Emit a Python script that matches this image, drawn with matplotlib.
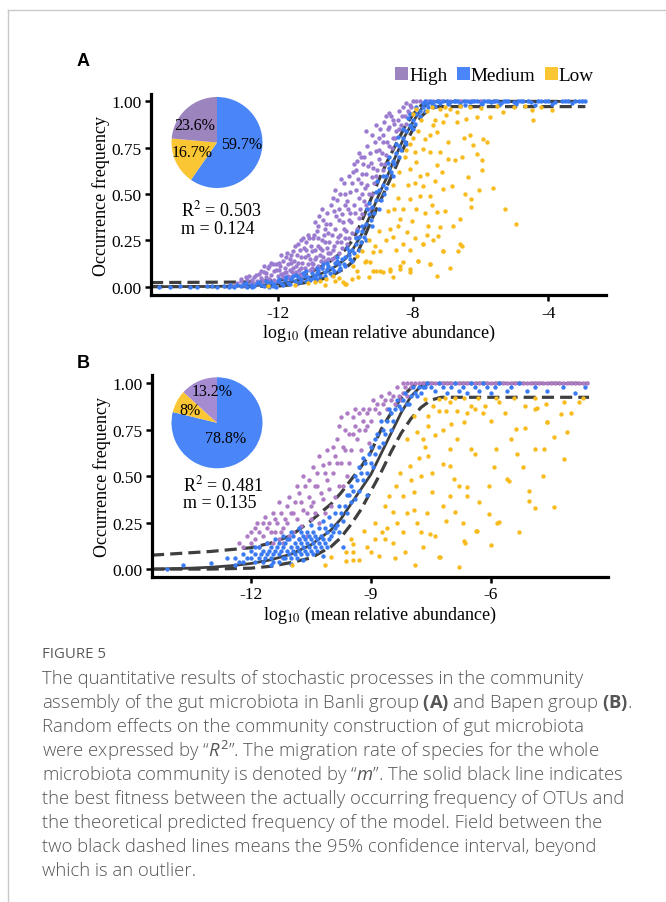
import numpy as np
import matplotlib.pyplot as plt
from matplotlib.patches import Patch
from matplotlib.lines import Line2D

plt.rcParams['mathtext.fontset'] = 'custom'
plt.rcParams['mathtext.rm'] = 'Open Sans'
plt.rcParams['mathtext.it'] = 'Open Sans:italic'
plt.rcParams['mathtext.bf'] = 'Open Sans:bold'

SERIF = 'Liberation Serif'
W, H = 666, 903

# ---------------- data ----------------
groups = ['High', 'Medium', 'Low']

# panel A (Banli group)
a_high = [
    (-13.4, 0.01), (-13.2, 0.02), (-13.0, 0.01), (-12.9, 0.035), (-12.8, 0.02), (-12.7, 0.05),
    (-12.6, 0.03), (-12.55, 0.07), (-12.7, 0.015), (-12.5, 0.045), (-13.1, 0.04), (-12.85, 0.06),
    (-12.45, 0.03), (-12.4, 0.08), (-12.35, 0.05), (-12.3, 0.1), (-12.25, 0.04), (-12.2, 0.065),
    (-12.15, 0.12), (-12.1, 0.035), (-12.05, 0.09), (-12.0, 0.055), (-12.4, 0.11), (-12.2, 0.13),
    (-11.95, 0.13), (-11.9, 0.07), (-11.85, 0.05), (-11.8, 0.1), (-11.75, 0.16), (-11.7, 0.06),
    (-11.65, 0.09), (-11.6, 0.13), (-11.55, 0.19), (-11.5, 0.07), (-11.9, 0.17), (-11.7, 0.12),
    (-11.6, 0.05), (-11.8, 0.04), (-11.55, 0.1), (-11.95, 0.09), (-11.75, 0.08), (-11.65, 0.15),
    (-11.45, 0.08), (-11.4, 0.13), (-11.35, 0.2), (-11.3, 0.1), (-11.25, 0.07), (-11.2, 0.16),
    (-11.15, 0.24), (-11.1, 0.12), (-11.05, 0.09), (-11.0, 0.19), (-11.4, 0.23), (-11.3, 0.16),
    (-11.2, 0.1), (-11.1, 0.28), (-11.0, 0.1), (-11.35, 0.07), (-11.05, 0.15), (-11.25, 0.26),
    (-11.45, 0.11), (-11.15, 0.2), (-11.3, 0.06), (-11.0, 0.13),
    (-10.95, 0.12), (-10.9, 0.2), (-10.85, 0.3), (-10.8, 0.11), (-10.75, 0.17), (-10.7, 0.25),
    (-10.65, 0.36), (-10.6, 0.14), (-10.55, 0.21), (-10.5, 0.29), (-10.9, 0.15), (-10.8, 0.33),
    (-10.7, 0.1), (-10.6, 0.24), (-10.55, 0.4), (-10.95, 0.26), (-10.75, 0.21), (-10.65, 0.16),
    (-10.85, 0.1), (-10.5, 0.15), (-10.9, 0.35), (-10.7, 0.42), (-10.6, 0.31), (-10.8, 0.22),
    (-10.45, 0.18), (-10.4, 0.28), (-10.35, 0.41), (-10.3, 0.16), (-10.25, 0.24), (-10.2, 0.36),
    (-10.15, 0.5), (-10.1, 0.21), (-10.05, 0.31), (-10.0, 0.44), (-10.45, 0.34), (-10.35, 0.22),
    (-10.25, 0.47), (-10.15, 0.28), (-10.05, 0.56), (-10.4, 0.15), (-10.2, 0.18), (-10.1, 0.39),
    (-10.3, 0.52), (-10.0, 0.26), (-10.12, 0.58), (-10.38, 0.48),
    (-9.95, 0.23), (-9.9, 0.36), (-9.85, 0.51), (-9.8, 0.29), (-9.75, 0.44), (-9.7, 0.63),
    (-9.65, 0.31), (-9.6, 0.48), (-9.55, 0.7), (-9.5, 0.39), (-9.9, 0.6), (-9.8, 0.56),
    (-9.7, 0.27), (-9.6, 0.37), (-9.55, 0.56), (-9.95, 0.46), (-9.65, 0.68), (-9.75, 0.66),
    (-9.5, 0.61), (-9.85, 0.4), (-9.6, 0.72),
    (-9.45, 0.46), (-9.4, 0.61), (-9.35, 0.76), (-9.3, 0.5), (-9.25, 0.67), (-9.2, 0.82),
    (-9.15, 0.56), (-9.1, 0.73), (-9.05, 0.63), (-9.0, 0.8), (-9.4, 0.84), (-9.3, 0.42),
    (-9.2, 0.59), (-9.1, 0.87), (-9.45, 0.7), (-9.0, 0.69), (-9.35, 0.55),
    (-8.95, 0.66), (-8.9, 0.78), (-8.85, 0.89), (-8.8, 0.71), (-8.75, 0.85), (-8.7, 0.76),
    (-8.65, 0.92), (-8.6, 0.8), (-8.55, 0.88), (-8.5, 0.84), (-8.9, 0.63), (-8.7, 0.94),
    (-8.8, 0.92),
    (-8.45, 0.9), (-8.4, 0.95), (-8.35, 0.87), (-8.3, 0.97), (-8.25, 0.92), (-8.2, 0.99),
    (-8.15, 0.95), (-8.1, 0.98), (-8.0, 1.0), (-7.9, 1.0), (-8.05, 0.97),
    (-7.8, 1.0), (-7.6, 1.0), (-7.4, 1.0), (-7.2, 1.0), (-6.9, 1.0), (-6.6, 1.0),
    (-6.3, 1.0), (-6.0, 1.0), (-5.6, 1.0),
    (-13.3, 0.005), (-13.1, 0.03), (-12.95, 0.05), (-12.75, 0.035), (-12.65, 0.065),
    (-12.5, 0.085), (-12.35, 0.075), (-12.3, 0.035), (-12.25, 0.11), (-12.1, 0.085),
    (-12.05, 0.12), (-11.98, 0.03), (-11.92, 0.11), (-11.85, 0.14), (-11.82, 0.075),
    (-11.72, 0.18), (-11.68, 0.045), (-11.62, 0.17), (-11.58, 0.08), (-11.52, 0.14),
    (-11.48, 0.22), (-11.42, 0.17), (-11.38, 0.09), (-11.32, 0.25), (-11.28, 0.13),
    (-11.22, 0.21), (-11.18, 0.08), (-11.12, 0.17), (-11.08, 0.26), (-11.02, 0.22),
    (-10.98, 0.09), (-10.92, 0.28), (-10.88, 0.16), (-10.82, 0.26), (-10.78, 0.38),
    (-10.72, 0.14), (-10.68, 0.2), (-10.62, 0.28), (-10.58, 0.34), (-10.52, 0.18),
    (-10.48, 0.24), (-10.42, 0.44), (-10.38, 0.2), (-10.32, 0.31), (-10.28, 0.38),
    (-10.22, 0.27), (-10.18, 0.42), (-10.12, 0.24), (-10.08, 0.35), (-10.02, 0.5),
    (-9.98, 0.3), (-9.92, 0.42), (-9.88, 0.26), (-9.82, 0.35), (-9.78, 0.62), (-9.72, 0.4),
    (-9.68, 0.52), (-9.62, 0.58), (-9.58, 0.42), (-9.52, 0.5), (-9.48, 0.66), (-9.42, 0.53),
    (-9.38, 0.44), (-9.32, 0.65), (-9.28, 0.72), (-9.22, 0.5), (-9.18, 0.64), (-9.12, 0.78),
    (-9.08, 0.6), (-9.02, 0.74), (-8.98, 0.85), (-8.92, 0.72), (-8.88, 0.82), (-8.82, 0.66),
    (-8.78, 0.78), (-8.72, 0.86), (-8.62, 0.75), (-8.58, 0.9), (-8.52, 0.8), (-8.42, 0.85),
    (-8.32, 0.92), (-8.22, 0.88), (-8.12, 0.94),
]

a_medium = [
    (-15.2, 0.0), (-14.9, 0.005), (-14.4, 0.0), (-14.1, 0.005), (-13.8, 0.0), (-13.6, 0.005),
    (-13.4, 0.01), (-13.3, 0.0), (-13.1, 0.005), (-13.0, 0.012), (-12.9, 0.0), (-12.8, 0.01),
    (-12.7, 0.005), (-12.6, 0.018), (-12.5, 0.01), (-12.4, 0.005), (-12.3, 0.02), (-12.2, 0.025),
    (-12.1, 0.012), (-12.0, 0.03), (-11.9, 0.018), (-11.8, 0.035), (-11.7, 0.022), (-11.6, 0.04),
    (-11.5, 0.03), (-11.4, 0.05), (-11.3, 0.04), (-11.2, 0.06), (-11.1, 0.05), (-11.0, 0.075),
    (-10.9, 0.06), (-10.8, 0.085), (-10.7, 0.1), (-10.6, 0.08), (-10.5, 0.11), (-10.4, 0.1),
    (-10.3, 0.13), (-10.2, 0.12), (-10.1, 0.15), (-10.0, 0.16), (-9.9, 0.19), (-9.8, 0.2),
    (-9.7, 0.23), (-9.6, 0.27), (-9.5, 0.3), (-9.4, 0.34), (-9.3, 0.39), (-9.2, 0.43),
    (-9.1, 0.47), (-9.0, 0.52), (-8.9, 0.55), (-8.8, 0.6), (-8.7, 0.64), (-8.6, 0.68),
    (-8.5, 0.72), (-8.4, 0.76), (-8.3, 0.8), (-8.2, 0.84), (-8.1, 0.87), (-8.0, 0.9),
    (-7.9, 0.93), (-7.8, 0.95), (-7.7, 0.97), (-7.6, 0.985),
    (-12.25, 0.0), (-11.95, 0.04), (-11.65, 0.012), (-11.35, 0.025), (-11.05, 0.035),
    (-10.75, 0.06), (-10.45, 0.075), (-10.15, 0.1), (-9.85, 0.15), (-9.55, 0.24),
    (-9.25, 0.36), (-8.95, 0.47), (-8.65, 0.62), (-8.35, 0.74), (-8.05, 0.86),
    (-10.85, 0.1), (-10.55, 0.13), (-10.25, 0.16), (-9.95, 0.21), (-9.65, 0.3),
    (-9.35, 0.42), (-9.05, 0.57), (-8.75, 0.67), (-8.45, 0.81), (-8.15, 0.91),
    (-11.55, 0.055), (-11.25, 0.075), (-10.95, 0.045), (-10.65, 0.12), (-10.35, 0.085),
    (-10.05, 0.125), (-9.75, 0.18), (-9.45, 0.27), (-9.15, 0.4), (-8.85, 0.5),
    (-8.55, 0.66), (-8.25, 0.78), (-7.95, 0.88),
    (-12.15, 0.005), (-11.85, 0.01), (-11.45, 0.015), (-11.15, 0.03), (-10.85, 0.04),
    (-10.6, 0.055), (-10.4, 0.065), (-10.2, 0.09), (-10.0, 0.11), (-9.8, 0.14), (-9.6, 0.2),
    (-9.4, 0.25), (-9.2, 0.33), (-9.0, 0.42), (-8.8, 0.53), (-8.6, 0.6), (-8.4, 0.7),
    (-8.2, 0.77), (-8.0, 0.85), (-7.8, 0.92), (-7.65, 0.95), (-11.75, 0.05), (-11.45, 0.065),
    (-11.15, 0.085), (-10.85, 0.075), (-10.55, 0.095), (-10.25, 0.14), (-9.9, 0.17),
    (-9.7, 0.26), (-9.5, 0.33), (-9.3, 0.45), (-9.1, 0.51), (-8.9, 0.6), (-8.7, 0.7),
    (-8.5, 0.77), (-8.3, 0.85), (-8.1, 0.93), (-7.9, 0.97), (-7.7, 0.99),
    (-15.5, 0.0), (-14.6, 0.0), (-13.95, 0.005), (-13.45, 0.0), (-13.2, 0.01), (-12.95, 0.02),
    (-12.75, 0.0), (-12.55, 0.025), (-12.35, 0.03), (-12.05, 0.0),
    (-7.5, 1.0), (-7.4, 0.995), (-7.3, 1.0), (-7.2, 0.99), (-7.1, 1.0), (-7.0, 1.0),
    (-6.9, 0.995), (-6.8, 1.0), (-6.7, 1.0), (-6.6, 0.99), (-6.5, 1.0), (-6.4, 1.0),
    (-6.3, 0.995), (-6.2, 1.0), (-6.1, 1.0), (-6.0, 0.99), (-5.9, 1.0), (-5.8, 1.0),
    (-5.7, 0.995), (-5.6, 1.0), (-5.5, 1.0), (-5.4, 0.99), (-5.3, 1.0), (-5.2, 1.0),
    (-5.0, 0.995), (-4.9, 1.0), (-4.8, 1.0), (-4.6, 1.0), (-4.5, 0.995), (-4.3, 1.0),
    (-4.2, 1.0), (-4.0, 1.0), (-3.8, 0.995), (-3.6, 1.0), (-3.4, 1.0), (-3.2, 1.0),
    (-3.0, 1.0), (-2.9, 1.0),
    (-7.55, 0.97), (-7.45, 0.985), (-7.35, 0.975), (-6.95, 0.985), (-6.45, 0.98),
    (-5.95, 0.985), (-5.45, 0.98), (-4.95, 0.985), (-4.4, 0.98), (-3.9, 0.985), (-3.3, 0.99),
    (-7.65, 1.0), (-7.25, 1.0), (-6.75, 1.0), (-6.25, 1.0), (-5.75, 1.0), (-5.25, 1.0),
    (-4.75, 1.0), (-4.1, 1.0), (-3.5, 1.0), (-3.1, 1.0),
]

a_low = [
    (-4.94, 0.339), (-5.28, 0.417), (-5.63, 0.532), (-5.97, 0.628), (-5.82, 0.781),
    (-5.92, 0.799), (-6.22, 0.763), (-6.12, 0.718), (-6.37, 0.592), (-6.27, 0.474),
    (-6.27, 0.429), (-6.61, 0.366), (-6.81, 0.33), (-6.56, 0.222), (-6.66, 0.195),
    (-7.11, 0.195), (-7.26, 0.276), (-7.21, 0.321), (-7.55, 0.33), (-7.7, 0.231),
    (-7.5, 0.123), (-7.85, 0.141), (-8.09, 0.078), (-8.29, 0.132), (-8.39, 0.096),
    (-8.68, 0.087), (-8.88, 0.078), (-9.18, 0.087), (-9.42, 0.132), (-9.67, 0.087),
    (-10.02, 0.015), (-9.62, 0.051), (-9.18, 0.186), (-8.98, 0.195), (-9.13, 0.222),
    (-8.68, 0.312), (-8.44, 0.33), (-8.39, 0.366), (-8.19, 0.294), (-8.04, 0.357),
    (-8.29, 0.42), (-8.09, 0.474), (-7.8, 0.492), (-7.5, 0.492), (-7.7, 0.546),
    (-7.11, 0.528), (-6.86, 0.546), (-7.06, 0.411), (-7.3, 0.402), (-7.8, 0.6),
    (-7.6, 0.61), (-8.09, 0.637), (-7.9, 0.673), (-7.3, 0.655), (-6.96, 0.691),
    (-6.76, 0.682), (-7.5, 0.727), (-7.21, 0.727), (-7.95, 0.727), (-7.7, 0.745),
    (-7.65, 0.799), (-7.5, 0.817), (-7.3, 0.835), (-7.11, 0.889), (-6.71, 0.889),
    (-6.42, 0.907), (-6.12, 0.916), (-5.73, 0.916), (-5.33, 0.943), (-4.44, 0.898),
    (-4.49, 0.952), (-3.9, 0.952), (-6.71, 0.943), (-7.01, 0.925), (-6.32, 0.817),
    (-5.97, 0.682),
    (-10.56, 0.042), (-10.07, 0.024), (-10.36, 0.06), (-9.77, 0.114), (-9.67, 0.168),
    (-9.38, 0.141), (-9.08, 0.087), (-8.69, 0.096), (-8.39, 0.114), (-8.09, 0.096),
    (-7.85, 0.141), (-7.5, 0.123), (-7.7, 0.231), (-7.11, 0.195), (-6.62, 0.231),
    (-8.98, 0.087), (-9.28, 0.132), (-10.76, 0.033), (-9.97, 0.015),
    (-12.3, 0.005), (-11.1, 0.02), (-10.9, 0.025), (-10.6, 0.01), (-11.5, 0.01), (-10.3, 0.03),
    (-8.0, 0.93), (-7.9, 0.96), (-7.75, 0.9), (-7.6, 0.95), (-7.45, 0.97), (-7.35, 0.9),
    (-7.2, 0.96), (-7.05, 0.97), (-6.9, 0.96), (-6.6, 0.975), (-6.3, 0.97), (-6.0, 0.965),
    (-5.5, 0.975), (-5.0, 0.97), (-4.7, 0.975), (-4.2, 0.97), (-8.2, 0.74), (-8.0, 0.8),
    (-7.85, 0.84), (-7.4, 0.87), (-7.95, 0.56), (-8.15, 0.55), (-8.45, 0.48), (-8.55, 0.42),
    (-8.6, 0.27), (-8.8, 0.25), (-8.5, 0.2), (-8.3, 0.23), (-8.1, 0.2), (-7.95, 0.26),
    (-7.6, 0.28), (-7.4, 0.25), (-7.45, 0.44), (-7.65, 0.4), (-7.9, 0.42), (-7.35, 0.57),
    (-7.15, 0.62), (-6.95, 0.78), (-6.5, 0.8), (-6.55, 0.7), (-6.45, 0.5), (-6.05, 0.52),
    (-6.9, 0.1), (-7.3, 0.06), (-8.6, 0.05), (-9.3, 0.05), (-9.8, 0.04), (-10.2, 0.045),
    (-9.5, 0.19), (-9.3, 0.25), (-9.0, 0.3), (-8.75, 0.41), (-8.6, 0.55), (-8.4, 0.62),
    (-8.25, 0.7), (-8.1, 0.77),
]

# fitted neutral model and its 95% band
a_fit_x = [-15.75, -14, -13, -12.5, -12, -11.5, -11, -10.5, -10.25, -10, -9.75, -9.5, -9.25,
           -9.0, -8.75, -8.5, -8.25, -8.0, -7.75, -7.5, -7.25, -6, -4, -2.9]
a_fit_y = [0.0, 0.001, 0.004, 0.008, 0.015, 0.03, 0.052, 0.085, 0.115, 0.15, 0.21, 0.29, 0.39,
           0.5, 0.6, 0.71, 0.81, 0.89, 0.96, 0.995, 1.0, 1.0, 1.0, 1.0]
a_up_x = [-15.75, -13, -12, -11.5, -11, -10.5, -10, -9.75, -9.5, -9.25, -9.0, -8.75, -8.5,
          -8.25, -8.0, -7.75, -7.5, -2.9]
a_up_y = [0.022, 0.025, 0.035, 0.05, 0.08, 0.13, 0.2, 0.26, 0.36, 0.47, 0.58, 0.68, 0.77,
          0.86, 0.93, 0.98, 1.0, 1.0]
a_lo_x = [-15.75, -13, -12, -11.5, -11, -10.5, -10, -9.75, -9.5, -9.25, -9.0, -8.75, -8.5,
          -8.25, -8.0, -7.75, -7.5, -7.25, -2.9]
a_lo_y = [0.0, 0.0, 0.003, 0.012, 0.028, 0.05, 0.1, 0.14, 0.24, 0.35, 0.45, 0.55, 0.65,
          0.76, 0.85, 0.92, 0.96, 0.972, 0.972]

a_pie = [59.7, 16.7, 23.6]          # Medium, Low, High
a_r2, a_m = 0.503, 0.124

# panel B (Bapen group)
b_high = [
    (-12.2, 0.12), (-12.0, 0.14), (-11.9, 0.16), (-11.8, 0.12), (-11.7, 0.18), (-11.6, 0.14),
    (-11.5, 0.2), (-11.6, 0.22), (-11.8, 0.2), (-11.7, 0.25), (-12.1, 0.18), (-11.9, 0.22),
    (-11.45, 0.14), (-11.4, 0.2), (-11.35, 0.25), (-11.3, 0.16), (-11.25, 0.3), (-11.2, 0.22),
    (-11.15, 0.27), (-11.1, 0.34), (-11.05, 0.18), (-11.0, 0.3), (-11.4, 0.27), (-11.2, 0.14),
    (-10.95, 0.2), (-10.9, 0.36), (-10.85, 0.27), (-10.8, 0.41), (-10.75, 0.23), (-10.7, 0.32),
    (-10.65, 0.45), (-10.6, 0.18), (-10.55, 0.39), (-10.5, 0.27), (-10.8, 0.16), (-10.6, 0.3),
    (-10.45, 0.36), (-10.4, 0.45), (-10.35, 0.52), (-10.3, 0.25), (-10.25, 0.41), (-10.2, 0.56),
    (-10.15, 0.3), (-10.1, 0.48), (-10.05, 0.43), (-10.0, 0.34), (-10.4, 0.3), (-10.2, 0.38),
    (-9.95, 0.52), (-9.9, 0.61), (-9.85, 0.7), (-9.8, 0.45), (-9.75, 0.57), (-9.7, 0.66),
    (-9.65, 0.75), (-9.6, 0.5), (-9.55, 0.73), (-9.5, 0.64), (-9.9, 0.39), (-9.7, 0.45),
    (-9.45, 0.82), (-9.4, 0.77), (-9.35, 0.7), (-9.3, 0.84), (-9.25, 0.64), (-9.2, 0.8),
    (-9.15, 0.75), (-9.1, 0.84), (-9.05, 0.68), (-9.0, 0.8),
    (-8.9, 0.86), (-8.8, 0.84), (-8.7, 0.89), (-8.6, 0.86), (-8.5, 0.91), (-8.4, 0.89),
    (-8.3, 0.93), (-8.2, 0.95), (-8.1, 0.93), (-8.0, 0.98),
    (-12.3, 0.14), (-12.0, 0.2), (-11.85, 0.25), (-11.65, 0.28), (-11.55, 0.25), (-11.45, 0.3),
    (-11.3, 0.36), (-11.25, 0.2), (-11.1, 0.25), (-11.05, 0.39), (-10.95, 0.3), (-10.85, 0.45),
    (-10.75, 0.36), (-10.7, 0.5), (-10.55, 0.48), (-10.5, 0.34), (-10.45, 0.55), (-10.35, 0.45),
    (-10.3, 0.61), (-10.15, 0.52), (-10.1, 0.64), (-10.05, 0.57), (-9.95, 0.66), (-9.85, 0.57),
    (-9.8, 0.77), (-9.75, 0.82), (-9.65, 0.64), (-9.6, 0.84), (-9.55, 0.57), (-9.45, 0.73),
    (-9.4, 0.86), (-9.3, 0.75), (-9.2, 0.86), (-9.1, 0.77), (-9.05, 0.86), (-8.95, 0.91),
    (-8.85, 0.89), (-8.75, 0.93), (-8.65, 0.91), (-8.55, 0.95), (-8.45, 0.93), (-8.35, 0.98),
    (-8.25, 0.91), (-8.15, 0.98), (-8.1, 1.0), (-8.2, 1.0),
    (-8.0, 1.0), (-7.9, 1.0), (-7.8, 1.0), (-7.7, 1.0), (-7.6, 1.0), (-7.5, 1.0), (-7.4, 1.0),
    (-7.3, 1.0), (-7.2, 1.0), (-7.1, 1.0), (-7.0, 1.0), (-6.9, 1.0), (-6.8, 1.0), (-6.7, 1.0),
    (-6.6, 1.0), (-6.5, 1.0), (-6.4, 1.0), (-6.3, 1.0), (-6.2, 1.0), (-6.1, 1.0), (-6.0, 1.0),
    (-5.9, 1.0), (-5.8, 1.0), (-5.7, 1.0), (-5.6, 1.0), (-5.5, 1.0), (-5.4, 1.0), (-5.3, 1.0),
    (-5.2, 1.0), (-5.1, 1.0), (-5.0, 1.0), (-4.9, 1.0), (-4.8, 1.0), (-4.7, 1.0), (-4.6, 1.0),
    (-4.5, 1.0), (-4.4, 1.0), (-4.3, 1.0), (-4.2, 1.0), (-4.1, 1.0), (-4.0, 1.0), (-3.9, 1.0),
    (-3.8, 1.0), (-3.7, 1.0), (-3.6, 1.0),
]

b_medium = [
    (-14.1, 0.0), (-13.7, 0.02), (-13.0, 0.035), (-12.6, 0.06), (-12.3, 0.04), (-12.2, 0.08),
    (-12.1, 0.06), (-12.0, 0.1), (-11.9, 0.04), (-11.9, 0.08), (-11.8, 0.12), (-11.8, 0.06),
    (-11.7, 0.1), (-11.7, 0.04), (-11.6, 0.14), (-11.6, 0.08), (-11.5, 0.06), (-11.5, 0.12),
    (-11.4, 0.1), (-11.4, 0.16), (-11.3, 0.04), (-11.3, 0.08), (-11.3, 0.14), (-11.2, 0.06),
    (-11.2, 0.12), (-11.2, 0.18), (-11.1, 0.1), (-11.1, 0.16), (-11.0, 0.06), (-11.0, 0.12),
    (-11.0, 0.2), (-10.9, 0.08), (-10.9, 0.14), (-10.8, 0.1), (-10.8, 0.16), (-10.8, 0.22),
    (-10.7, 0.12), (-10.7, 0.18), (-10.6, 0.08), (-10.6, 0.14), (-10.6, 0.2), (-10.5, 0.1),
    (-10.5, 0.16), (-10.5, 0.24), (-10.4, 0.12), (-10.4, 0.18), (-10.3, 0.14), (-10.3, 0.22),
    (-10.2, 0.16), (-10.2, 0.26), (-10.1, 0.12), (-10.1, 0.2), (-10.0, 0.18), (-10.0, 0.24),
    (-9.9, 0.22), (-9.9, 0.3), (-9.8, 0.2), (-9.8, 0.34), (-9.7, 0.26), (-9.6, 0.4),
    (-9.6, 0.3), (-9.5, 0.36), (-9.5, 0.45), (-9.4, 0.5), (-9.4, 0.38), (-9.3, 0.42),
    (-9.3, 0.55), (-9.2, 0.48), (-9.2, 0.6), (-9.1, 0.52), (-9.1, 0.4), (-9.0, 0.57),
    (-9.0, 0.66), (-8.9, 0.62), (-8.9, 0.7), (-8.8, 0.66), (-8.7, 0.75), (-8.7, 0.68),
    (-8.6, 0.8), (-8.5, 0.84), (-8.5, 0.75), (-8.4, 0.86), (-8.3, 0.88), (-8.2, 0.91),
    (-8.1, 0.89), (-8.0, 0.93), (-7.9, 0.95), (-7.8, 0.98), (-7.7, 0.98), (-7.6, 1.0),
    (-12.4, 0.02), (-11.5, 0.02), (-11.0, 0.03), (-10.7, 0.05), (-10.2, 0.07), (-9.7, 0.12),
    (-12.4, 0.06), (-12.2, 0.04), (-12.0, 0.06), (-11.9, 0.12), (-11.75, 0.08), (-11.65, 0.06),
    (-11.55, 0.1), (-11.45, 0.04), (-11.45, 0.08), (-11.35, 0.12), (-11.25, 0.1), (-11.15, 0.06),
    (-11.15, 0.14), (-11.05, 0.08), (-11.05, 0.16), (-10.95, 0.1), (-10.95, 0.18), (-10.85, 0.06),
    (-10.85, 0.12), (-10.75, 0.08), (-10.75, 0.14), (-10.75, 0.2), (-10.65, 0.1), (-10.65, 0.16),
    (-10.55, 0.12), (-10.55, 0.18), (-10.45, 0.08), (-10.45, 0.14), (-10.45, 0.2), (-10.35, 0.1),
    (-10.35, 0.16), (-10.25, 0.12), (-10.25, 0.18), (-10.15, 0.14), (-10.15, 0.22),
    (-10.05, 0.16), (-10.05, 0.28), (-9.95, 0.2), (-9.85, 0.24), (-9.75, 0.3), (-9.65, 0.34),
    (-9.55, 0.4), (-9.45, 0.42), (-9.35, 0.48), (-9.25, 0.52), (-9.15, 0.57), (-9.05, 0.62),
    (-8.95, 0.55), (-8.85, 0.73), (-8.75, 0.8), (-8.65, 0.73), (-8.55, 0.86), (-8.45, 0.8),
    (-8.35, 0.91), (-8.25, 0.86), (-8.15, 0.95), (-8.05, 0.89), (-7.95, 0.98), (-7.85, 0.93),
    (-7.75, 0.95), (-7.65, 0.98),
    (-7.5, 0.98), (-7.4, 0.96), (-7.3, 1.0), (-7.2, 0.98), (-7.1, 0.95), (-7.0, 0.98),
    (-6.9, 1.0), (-6.8, 0.96), (-6.7, 0.98), (-6.6, 0.95), (-6.5, 1.0), (-6.4, 0.98),
    (-6.3, 0.96), (-6.2, 1.0), (-6.1, 0.98), (-6.0, 0.95), (-5.9, 0.98), (-5.8, 1.0),
    (-5.6, 0.96), (-5.5, 0.98), (-5.3, 1.0), (-5.1, 0.96), (-4.9, 0.98), (-4.6, 0.96),
    (-4.2, 0.98), (-3.9, 0.95), (-3.65, 0.98),
]

b_low = [
    (-10.96, 0.02), (-10.16, 0.02), (-9.62, 0.045), (-9.45, 0.09), (-9.5, 0.16), (-9.45, 0.135),
    (-9.18, 0.206), (-9.0, 0.09), (-8.91, 0.25), (-8.73, 0.2), (-8.64, 0.16), (-8.46, 0.305),
    (-8.46, 0.14), (-8.15, 0.09), (-8.2, 0.2), (-7.93, 0.32), (-7.75, 0.2), (-7.3, 0.063),
    (-7.39, 0.18), (-7.13, 0.26), (-7.21, 0.34), (-7.02, 0.395), (-6.93, 0.485), (-7.21, 0.565),
    (-7.02, 0.646), (-6.86, 0.7), (-6.68, 0.79), (-6.59, 0.84), (-6.41, 0.86), (-6.14, 0.88),
    (-5.79, 0.9), (-5.16, 0.88), (-4.89, 0.86), (-4.62, 0.89), (-4.26, 0.835), (-4.17, 0.9),
    (-4.59, 0.79), (-4.89, 0.646), (-5.34, 0.62), (-5.38, 0.754), (-5.16, 0.76), (-5.88, 0.646),
    (-5.93, 0.55), (-5.61, 0.485), (-6.06, 0.45), (-4.89, 0.33), (-5.84, 0.25), (-6.06, 0.296),
    (-6.37, 0.206), (-6.68, 0.152), (-6.59, 0.44), (-6.59, 0.395), (-6.9, 0.305), (-6.41, 0.62),
    (-6.5, 0.646), (-7.02, 0.555), (-7.48, 0.413), (-7.48, 0.515), (-7.75, 0.5), (-7.57, 0.61),
    (-7.7, 0.7), (-7.84, 0.736), (-7.57, 0.77), (-7.57, 0.826), (-7.3, 0.85), (-7.13, 0.85),
    (-6.86, 0.85), (-7.66, 0.915), (-7.3, 0.915), (-7.02, 0.9), (-6.68, 0.92), (-6.32, 0.92),
    (-5.88, 0.92), (-5.43, 0.92), (-4.89, 0.92), (-7.93, 0.826), (-8.11, 0.7), (-8.02, 0.556),
    (-8.28, 0.52), (-8.37, 0.45), (-8.2, 0.395), (-8.55, 0.395), (-8.64, 0.34), (-7.93, 0.413),
    (-7.84, 0.25), (-7.52, 0.19), (-9.62, 0.09), (-9.45, 0.05), (-10.0, 0.063),
    (-4.85, 0.87), (-4.6, 0.79), (-4.1, 0.736), (-4.43, 0.709), (-4.68, 0.646), (-4.18, 0.592),
    (-5.56, 0.476), (-5.06, 0.422), (-5.06, 0.368), (-5.31, 0.197), (-5.81, 0.251),
    (-6.35, 0.206), (-6.64, 0.143), (-7.27, 0.063), (-6.81, 0.009), (-4.43, 0.332),
    (-9.3, 0.05), (-9.1, 0.12), (-8.9, 0.16), (-8.8, 0.07), (-8.6, 0.22), (-8.35, 0.25),
    (-8.1, 0.3), (-8.0, 0.48), (-7.8, 0.6), (-7.65, 0.66), (-7.4, 0.72), (-7.2, 0.75),
    (-7.0, 0.78), (-7.45, 0.88), (-7.15, 0.92), (-6.9, 0.92), (-6.5, 0.88), (-6.2, 0.84),
    (-6.0, 0.8), (-5.65, 0.84), (-5.5, 0.7), (-5.2, 0.55), (-4.7, 0.5), (-4.0, 0.84),
    (-3.8, 0.9), (-3.7, 0.92), (-6.8, 0.45), (-6.3, 0.36), (-6.7, 0.25), (-7.6, 0.3),
    (-7.7, 0.12), (-8.4, 0.06), (-7.9, 0.02), (-6.0, 0.13),
]

b_fit_x = [-14.47, -13.5, -13, -12.5, -12, -11.5, -11, -10.5, -10, -9.75, -9.5, -9.25, -9.0,
           -8.75, -8.5, -8.25, -8.0, -7.75, -7.5, -3.55]
b_fit_y = [0.0, 0.005, 0.01, 0.018, 0.03, 0.05, 0.08, 0.13, 0.21, 0.27, 0.35, 0.43, 0.51,
           0.62, 0.73, 0.84, 0.93, 0.985, 1.0, 1.0]
b_up_x = [-14.47, -13, -12, -11.5, -11, -10.5, -10, -9.75, -9.5, -9.25, -9.0, -8.75, -8.5,
          -8.25, -8.0, -7.85, -7.5, -3.55]
b_up_y = [0.075, 0.095, 0.115, 0.14, 0.18, 0.26, 0.35, 0.41, 0.48, 0.55, 0.63, 0.75, 0.84,
          0.92, 0.975, 1.0, 1.0, 1.0]
b_lo_x = [-14.47, -13, -12, -11.5, -11, -10.5, -10, -9.75, -9.5, -9.25, -9.0, -8.75, -8.5,
          -8.25, -8.0, -7.75, -7.5, -7.25, -3.55]
b_lo_y = [0.0, 0.0, 0.005, 0.015, 0.035, 0.06, 0.12, 0.17, 0.24, 0.32, 0.42, 0.52, 0.63,
          0.73, 0.81, 0.87, 0.91, 0.925, 0.925]

b_pie = [78.8, 8.0, 13.2]           # Medium, Low, High
b_r2, b_m = 0.481, 0.135

caption = [
    r"The quantitative results of stochastic processes in the community",
    r"assembly of the gut microbiota in Banli group $\mathbf{(A)}$ and Bapen group $\mathbf{(B)}$.",
    r"Random effects on the community construction of gut microbiota",
    r"were expressed by “$\mathit{R}^{2}$”. The migration rate of species for the whole",
    r"microbiota community is denoted by “$\mathit{m}$”. The solid black line indicates",
    r"the best fitness between the actually occurring frequency of OTUs and",
    r"the theoretical predicted frequency of the model. Field between the",
    r"two black dashed lines means the 95% confidence interval, beyond",
    r"which is an outlier.",
]

# ---------------- styling ----------------
pt_colors_a = {'High': '#9b7bd0', 'Medium': '#3a7bf4', 'Low': '#f8bb1e'}
pt_colors_b = {'High': '#ad7cc4', 'Medium': '#3a7bf4', 'Low': '#f8bb1e'}
pie_colors_a = ['#4a86f7', '#fbc634', '#9c84bf']
pie_colors_b = ['#4a86f7', '#fbc634', '#a58bd2']
line_col = '#3f3f3f'


def px_rect(left, top, right, bottom):
    return [left / W, 1 - bottom / H, (right - left) / W, (bottom - top) / H]


def draw_panel(ax, pts, colors, fit, up, lo, xlim, ylim, xticks):
    for g in groups:
        arr = np.array(pts[g])
        ax.scatter(arr[:, 0], arr[:, 1], s=10, color=colors[g], linewidths=0, zorder=3)
    ax.plot(fit[0], fit[1], color=line_col, lw=2.0, zorder=2, solid_capstyle='butt')
    for xs, ys in (up, lo):
        ax.plot(xs, ys, color=line_col, lw=2.3, dashes=(3.8, 1.9), zorder=2)
    ax.set_xlim(*xlim)
    ax.set_ylim(*ylim)
    ax.set_xticks(xticks)
    ax.set_xticklabels([f'{t:g}' for t in xticks])
    ax.set_yticks([0, 0.25, 0.5, 0.75, 1.0])
    ax.set_yticklabels(['0.00', '0.25', '0.50', '0.75', '1.00'])
    for s in ('top', 'right'):
        ax.spines[s].set_visible(False)
    for s in ('left', 'bottom'):
        ax.spines[s].set_linewidth(2.3)
        ax.spines[s].set_color('black')
    ax.tick_params(direction='out', length=4, width=1.8, pad=3, labelsize=12.5)
    for lab in ax.get_xticklabels() + ax.get_yticklabels():
        lab.set_fontfamily(SERIF)
    ax.set_ylabel('Occurrence frequency', family=SERIF, fontsize=13, labelpad=1)
    ax.set_xlabel('log$_{10}$ (mean relative abundance)', family=SERIF, fontsize=13,
                  labelpad=1, math_fontfamily='stix')
    ax.patch.set_alpha(0)


def draw_pie(rect, values, colors, label_pos):
    pax = fig.add_axes(rect)
    pax.pie(values, colors=colors, startangle=90, counterclock=False, radius=1,
            wedgeprops=dict(linewidth=0))
    for v, (lx, ly) in zip(values, label_pos):
        pax.text(lx, ly, f'{v:g}%', ha='center', va='center', family=SERIF,
                 fontsize=11.5, color='black')
    pax.set_xlim(-1, 1)
    pax.set_ylim(-1, 1)
    pax.set_aspect('equal')
    pax.axis('off')


fig = plt.figure(figsize=(W / 100, H / 100), dpi=100)

# thin frame of the page
fig.add_artist(Line2D([8 / W, 1], [1 - 11 / H, 1 - 11 / H], color='#c9c9c9', lw=1.0))
fig.add_artist(Line2D([8 / W, 8 / W], [0, 1 - 11 / H], color='#c9c9c9', lw=1.0))

# panel A
ax_a = fig.add_axes(px_rect(151, 95, 606, 296))
draw_panel(ax_a,
           {'High': a_high, 'Medium': a_medium, 'Low': a_low}, pt_colors_a,
           (a_fit_x, a_fit_y), (a_up_x, a_up_y), (a_lo_x, a_lo_y),
           (-15.75, -2.29), (-0.045, 1.04), [-12, -8, -4])
handles = [Patch(facecolor=c, edgecolor='none') for c in ('#9c84bf', '#4a86f7', '#fbc634')]
ax_a.legend(handles, groups, ncol=3, loc='center right', bbox_to_anchor=(0.973, 1.092),
            frameon=False, handlelength=0.66, handleheight=0.66, handletextpad=0.06,
            columnspacing=0.5, borderpad=0, borderaxespad=0,
            prop={'family': SERIF, 'size': 13.8})
fig.text(83 / W, 1 - 62 / H, 'A', family='Liberation Sans', fontweight='bold',
         fontsize=13, ha='center', va='center')
draw_pie(px_rect(217 - 45.5, 143.5 - 45.5, 217 + 45.5, 143.5 + 45.5), a_pie, pie_colors_a,
         [(0.55, -0.03), (-0.55, -0.21), (-0.5, 0.385)])
fig.text(181 / W, 1 - 210 / H, f'R$^2$ = {a_r2:.3f}', family=SERIF, fontsize=13,
         va='center', math_fontfamily='stix')
fig.text(181 / W, 1 - 230 / H, f'm = {a_m:.3f}', family=SERIF, fontsize=13, va='center')

# panel B
ax_b = fig.add_axes(px_rect(152, 376, 607.5, 577.7))
draw_panel(ax_b,
           {'High': b_high, 'Medium': b_medium, 'Low': b_low}, pt_colors_b,
           (b_fit_x, b_fit_y), (b_up_x, b_up_y), (b_lo_x, b_lo_y),
           (-14.47, -3.09), (-0.041, 1.045), [-12, -9, -6])
fig.text(83 / W, 1 - 363.5 / H, 'B', family='Liberation Sans', fontweight='bold',
         fontsize=13, ha='center', va='center')
draw_pie(px_rect(217 - 45.5, 423.8 - 45.5, 217 + 45.5, 423.8 + 45.5), b_pie, pie_colors_b,
         [(0.18, -0.33), (-0.585, 0.29), (-0.11, 0.7)])
fig.text(183 / W, 1 - 485.7 / H, f'R$^2$ = {b_r2:.3f}', family=SERIF, fontsize=13,
         va='center', math_fontfamily='stix')
fig.text(183 / W, 1 - 504 / H, f'm = {b_m:.3f}', family=SERIF, fontsize=13, va='center')

# caption
fig.text(42.5 / W, 1 - 655 / H, 'FIGURE 5', family='Open Sans', fontsize=10.8,
         color='#5a5a5a', va='center')
for i, line in enumerate(caption):
    fig.text(42.5 / W, 1 - (679.5 + 23.9 * i) / H, line, family='Open Sans', fontsize=13.3,
             fontweight='light', color='#555555', va='center')

fig.savefig('out.png', dpi=100)
